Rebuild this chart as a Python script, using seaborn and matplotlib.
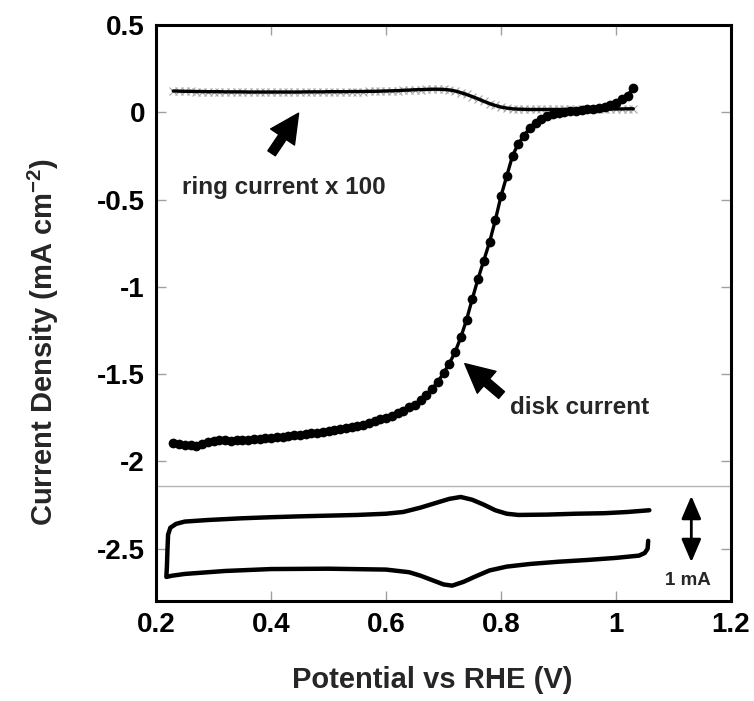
import matplotlib
matplotlib.use("Agg")
import matplotlib.pyplot as plt
import seaborn as sns
import pandas as pd

# ---------------- data ----------------
disk_potential = [0.23, 0.24, 0.25, 0.26, 0.27, 0.28, 0.29, 0.30, 0.31, 0.32,
                  0.33, 0.34, 0.35, 0.36, 0.37, 0.38, 0.39, 0.40, 0.41, 0.42,
                  0.43, 0.44, 0.45, 0.46, 0.47, 0.48, 0.49, 0.50, 0.51, 0.52,
                  0.53, 0.54, 0.55, 0.56, 0.57, 0.58, 0.59, 0.60, 0.61, 0.62,
                  0.63, 0.64, 0.65, 0.66, 0.67, 0.68, 0.69, 0.70, 0.71, 0.72,
                  0.73, 0.74, 0.75, 0.76, 0.77, 0.78, 0.79, 0.80, 0.81, 0.82,
                  0.83, 0.84, 0.85, 0.86, 0.87, 0.88, 0.89, 0.90, 0.91, 0.92,
                  0.93, 0.94, 0.95, 0.96, 0.97, 0.98, 0.99, 1.00, 1.01, 1.02, 1.03]
disk_current = [-1.895, -1.900, -1.905, -1.905, -1.910, -1.900, -1.890, -1.885, -1.880, -1.880,
                -1.885, -1.880, -1.875, -1.875, -1.870, -1.870, -1.865, -1.865, -1.860, -1.860,
                -1.855, -1.850, -1.850, -1.845, -1.840, -1.835, -1.830, -1.825, -1.820, -1.815,
                -1.810, -1.805, -1.800, -1.790, -1.780, -1.770, -1.760, -1.750, -1.740, -1.725,
                -1.710, -1.690, -1.675, -1.650, -1.620, -1.585, -1.545, -1.495, -1.440, -1.375,
                -1.290, -1.190, -1.070, -0.955, -0.850, -0.745, -0.620, -0.480, -0.365, -0.250,
                -0.180, -0.135, -0.090, -0.060, -0.038, -0.022, -0.011, -0.004, 0.000, 0.005,
                0.008, 0.012, 0.016, 0.020, 0.025, 0.032, 0.042, 0.055, 0.075, 0.095, 0.140]

ring_potential = disk_potential
ring_current_x100 = [0.122, 0.121, 0.120, 0.120, 0.119, 0.119, 0.118, 0.118, 0.118, 0.117,
                     0.117, 0.117, 0.117, 0.116, 0.116, 0.116, 0.116, 0.116, 0.116, 0.116,
                     0.116, 0.116, 0.116, 0.117, 0.117, 0.117, 0.117, 0.118, 0.118, 0.118,
                     0.118, 0.119, 0.119, 0.119, 0.120, 0.120, 0.121, 0.122, 0.123, 0.124,
                     0.126, 0.127, 0.129, 0.130, 0.131, 0.132, 0.132, 0.131, 0.128, 0.122,
                     0.113, 0.102, 0.090, 0.077, 0.063, 0.050, 0.039, 0.030, 0.024, 0.020,
                     0.018, 0.017, 0.016, 0.016, 0.016, 0.016, 0.016, 0.016, 0.016, 0.016,
                     0.017, 0.017, 0.017, 0.017, 0.018, 0.018, 0.018, 0.019, 0.019, 0.020, 0.020]

cv_potential = [1.056, 1.055, 1.050, 1.040, 1.000, 0.950, 0.900, 0.850, 0.810, 0.780,
                0.755, 0.735, 0.715, 0.700, 0.680, 0.660, 0.640, 0.600, 0.500, 0.400,
                0.320, 0.250, 0.228, 0.218, 0.219, 0.220, 0.221, 0.225, 0.235, 0.250,
                0.290, 0.350, 0.400, 0.450, 0.500, 0.550, 0.600, 0.630, 0.660, 0.690,
                0.710, 0.730, 0.750, 0.770, 0.790, 0.810, 0.830, 0.880, 0.930, 0.980,
                1.020, 1.058]
cv_signal = [-2.455, -2.500, -2.525, -2.540, -2.553, -2.565, -2.575, -2.588, -2.603, -2.625,
             -2.660, -2.690, -2.712, -2.705, -2.680, -2.655, -2.635, -2.620, -2.615, -2.617,
             -2.628, -2.645, -2.655, -2.662, -2.600, -2.500, -2.420, -2.380, -2.358, -2.345,
             -2.336, -2.326, -2.320, -2.315, -2.311, -2.307, -2.300, -2.290, -2.265, -2.235,
             -2.215, -2.204, -2.220, -2.248, -2.280, -2.300, -2.307, -2.305, -2.300, -2.297,
             -2.290, -2.280]

x_ticks = [0.2, 0.4, 0.6, 0.8, 1.0, 1.2]
x_tick_labels = ["0.2", "0.4", "0.6", "0.8", "1", "1.2"]
y_ticks = [0.5, 0, -0.5, -1, -1.5, -2, -2.5]
y_tick_labels = ["0.5", "0", "-0.5", "-1", "-1.5", "-2", "-2.5"]

disk_df = pd.DataFrame({"E": disk_potential, "j": disk_current})
ring_df = pd.DataFrame({"E": ring_potential, "j": ring_current_x100})
cv_df = pd.DataFrame({"E": cv_potential, "i": cv_signal})

# ---------------- style ----------------
sns.set_theme(style="white")
plt.rcParams["font.family"] = ["Liberation Sans", "DejaVu Sans"]
plt.rcParams["font.weight"] = "bold"
plt.rcParams["mathtext.fontset"] = "custom"
plt.rcParams["mathtext.rm"] = "Liberation Sans:bold"
plt.rcParams["mathtext.it"] = "Liberation Sans:bold"
plt.rcParams["mathtext.bf"] = "Liberation Sans:bold"
plt.rcParams["mathtext.default"] = "rm"

fig = plt.figure(figsize=(7.54, 7.01), dpi=100)
ax = fig.add_axes([156 / 754, 1 - 601 / 701, 575 / 754, 576 / 701])

# ring current (light gray x markers under a black line)
sns.lineplot(data=ring_df, x="E", y="j", ax=ax, sort=False, estimator=None,
             color="#a8a8a8", linestyle="none", marker="x", markersize=6,
             markeredgewidth=0.8, markeredgecolor="#a8a8a8", zorder=2)
sns.lineplot(data=ring_df, x="E", y="j", ax=ax, sort=False, estimator=None,
             color="black", linewidth=2.4, zorder=3)

# disk current
sns.lineplot(data=disk_df, x="E", y="j", ax=ax, sort=False, estimator=None,
             color="black", linewidth=2.4, marker="o", markersize=7,
             markeredgewidth=0, markeredgecolor="black", zorder=4)

# CV inset
sns.lineplot(data=cv_df, x="E", y="i", ax=ax, sort=False, estimator=None,
             color="black", linewidth=3.2, zorder=4)

ax.axhline(-2.14, color="#b5b5b5", linewidth=1.0, zorder=1)

ax.set_xlim(0.2, 1.2)
ax.set_ylim(-2.8, 0.5)
ax.set_xticks(x_ticks)
ax.set_xticklabels(x_tick_labels)
ax.set_yticks(y_ticks)
ax.set_yticklabels(y_tick_labels)
ax.tick_params(axis="both", which="both", direction="in", length=7, width=1,
               color="#a0a0a0", labelcolor="black", labelsize=20,
               top=True, right=True, bottom=True, left=True)
ax.tick_params(axis="x", pad=8)
ax.tick_params(axis="y", pad=8)
for lab in ax.get_xticklabels() + ax.get_yticklabels():
    lab.set_fontweight("bold")

for s in ax.spines.values():
    s.set_visible(True)
    s.set_color("black")
    s.set_linewidth(2.2)

ax.set_xlabel("Potential vs RHE (V)", fontsize=21, fontweight="bold")
ax.set_ylabel("Current Density (mA cm$^{-2}$)", fontsize=21, fontweight="bold")
ax.xaxis.set_label_coords(0.48, -0.112)
ax.yaxis.set_label_coords(-0.165, 0.45)

# annotations
arrow_kw = dict(arrowstyle="simple,head_width=0.9,head_length=0.9,tail_width=0.28",
                color="black", shrinkA=0, shrinkB=0)
ax.annotate("", xy=(0.448, -0.005), xytext=(0.401, -0.235),
            arrowprops=dict(mutation_scale=23, **arrow_kw))
ax.text(0.245, -0.43, "ring current x 100", fontsize=17.5, fontweight="bold",
        ha="left", va="center")

ax.annotate("", xy=(0.737, -1.44), xytext=(0.801, -1.62),
            arrowprops=dict(mutation_scale=23, **arrow_kw))
ax.text(0.816, -1.69, "disk current", fontsize=17.5, fontweight="bold",
        ha="left", va="center")

ax.annotate("", xy=(1.131, -2.198), xytext=(1.131, -2.577),
            arrowprops=dict(arrowstyle="<|-|>,head_width=0.3,head_length=0.7",
                            color="black", lw=2, mutation_scale=20,
                            shrinkA=0, shrinkB=0))
ax.text(1.125, -2.685, "1 mA", fontsize=13.5, fontweight="bold",
        ha="center", va="center")

fig.savefig("out.png", dpi=100)
